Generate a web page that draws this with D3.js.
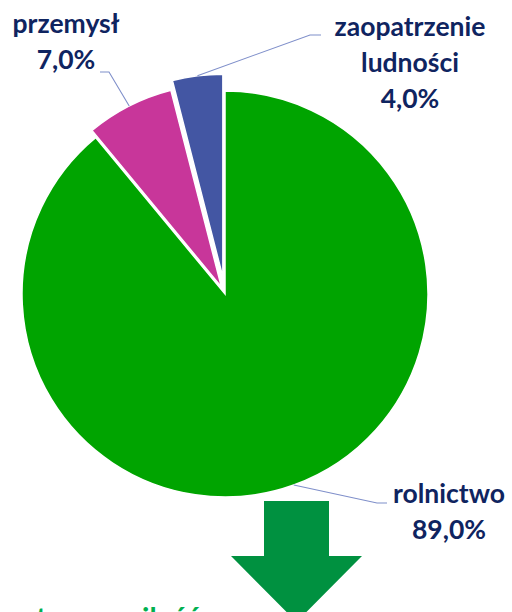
<!DOCTYPE html>
<html><head><meta charset="utf-8">
<script src="https://cdn.jsdelivr.net/npm/d3@7"></script>
<style>body{margin:0;background:#fff;overflow:hidden}</style></head>
<body>
<script>
// ---- data ----
const categories = ["rolnictwo", "przemysł", "zaopatrzenie ludności"];
const labelLines = [["rolnictwo"], ["przemysł"], ["zaopatrzenie", "ludności"]];
const values = [89.0, 7.0, 4.0];
const valueLabels = ["89,0%", "7,0%", "4,0%"];
const bottomText = "ta sama ilość";

// ---- styles / layout ----
const colors = ["#00a400", "#c8369a", "#4356a3"];
const explode = [0, 8, 17];
const W = 512, H = 612;
const cx = 225, cy = 294, R = 203;
const textColor = "#0f2460";
const leaderColor = "#7f8fca";
const font = "Lato, 'Open Sans', sans-serif";

const svg = d3.select("body").append("svg").attr("width", W).attr("height", H);

const pie = d3.pie().sort(null).value(d => d).startAngle(0).endAngle(2 * Math.PI);
const arcs = pie(values);
const arc = d3.arc().innerRadius(0).outerRadius(R);

const g = svg.append("g").attr("transform", `translate(${cx},${cy})`);
g.selectAll("path").data(arcs).join("path")
  .attr("d", arc)
  .attr("fill", (d, i) => colors[i])
  .attr("stroke", "#fff").attr("stroke-width", 1.5).attr("stroke-linejoin", "miter")
  .attr("transform", (d, i) => {
    const a = (d.startAngle + d.endAngle) / 2;
    return `translate(${Math.sin(a) * explode[i]},${-Math.cos(a) * explode[i]})`;
  });

// label anchors (center x, first baseline y) and leader elbows
const labelPos = [
  { x: 449, y: 503, elbow: [377, 503], end: [387, 503] },
  { x: 66, y: 33, elbow: [109, 72], end: [100, 72] },
  { x: 410, y: 36, elbow: [310, 35], end: [321, 35] }
];
const lineH = 36;

arcs.forEach((d, i) => {
  const a = (d.startAngle + d.endAngle) / 2;
  const r = R + explode[i];
  const p0 = [cx + Math.sin(a) * r, cy - Math.cos(a) * r];
  const lp = labelPos[i];
  svg.append("polyline")
    .attr("points", [p0, lp.elbow, lp.end].map(p => p.join(",")).join(" "))
    .attr("fill", "none").attr("stroke", leaderColor).attr("stroke-width", 1.1);
  const lines = labelLines[i].concat([valueLabels[i]]);
  const t = svg.append("text")
    .attr("font-family", font).attr("font-weight", 700).attr("font-size", 26.5)
    .attr("fill", textColor).attr("text-anchor", "middle");
  lines.forEach((s, k) => {
    t.append("tspan").attr("x", lp.x).attr("y", lp.y + k * lineH).text(s);
  });
});

// arrow
const arrowPts = [[264, 501], [329, 501], [329, 556], [362, 556], [296.5, 622],
                  [231, 556], [264, 556]];
svg.append("polygon").attr("points", arrowPts.map(p => p.join(",")).join(" "))
  .attr("fill", "#009140");

// bottom text (mostly cut off at the page edge, as in the reference)
svg.append("text").attr("x", 36).attr("y", 628)
  .attr("font-family", font).attr("font-weight", 700).attr("font-size", 29)
  .attr("fill", "#00b050").text(bottomText);
</script>
</body></html>
